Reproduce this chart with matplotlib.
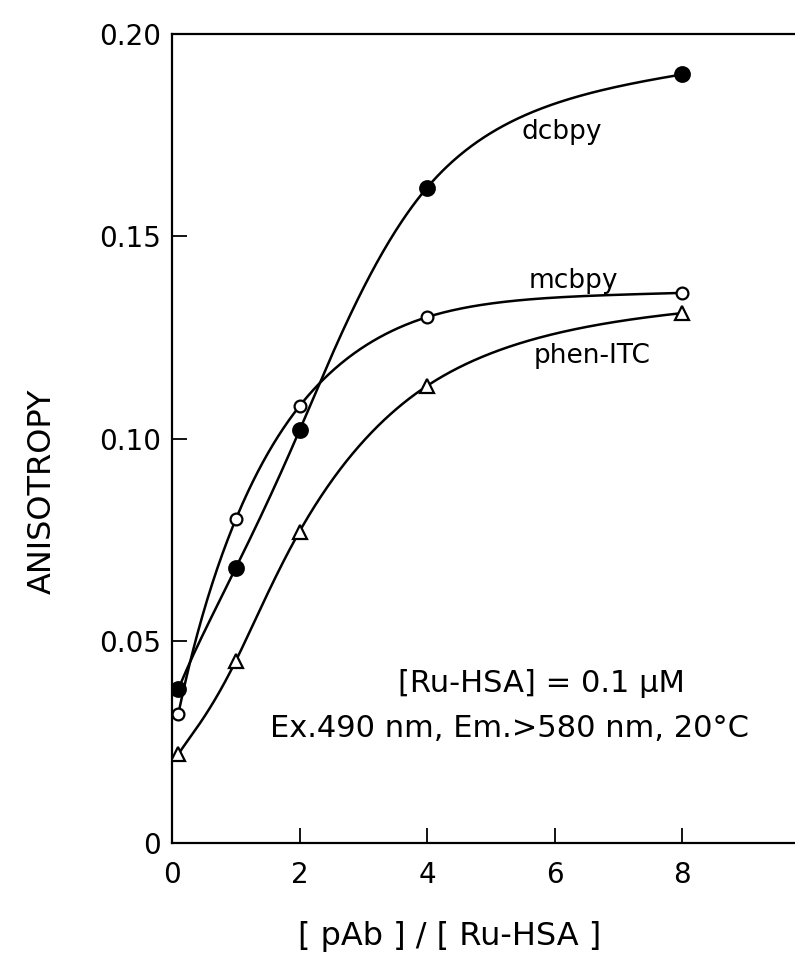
import matplotlib
matplotlib.use('Agg')
import matplotlib.pyplot as plt
import numpy as np

# pAb / Ru-HSA molar ratio
ratio = [0.1, 1, 2, 4, 8]

# steady-state anisotropy for the three Ru-ligand labels
dcbpy = [0.038, 0.068, 0.102, 0.162, 0.190]
mcbpy = [0.032, 0.080, 0.108, 0.130, 0.136]
phen_itc = [0.022, 0.045, 0.077, 0.113, 0.131]

ytick_vals = [0, 0.05, 0.10, 0.15, 0.20]
ytick_text = ['0', '0.05', '0.10', '0.15', '0.20']
xtick_vals = [0, 2, 4, 6, 8]


def smooth(x, y, xs, end_frac=0.3):
    # cubic spline through the points (natural start, clamped end),
    # just for drawing the guide curve
    x = np.asarray(x, float)
    y = np.asarray(y, float)
    n = len(x)
    h = np.diff(x)
    d = np.diff(y) / h
    sn = d[-1] * end_frac
    A = np.zeros((n, n))
    r = np.zeros(n)
    A[0, 0] = 1.0
    A[-1, -2], A[-1, -1] = h[-1], 2 * h[-1]
    r[-1] = 6 * (sn - d[-1])
    for i in range(1, n - 1):
        A[i, i - 1] = h[i - 1]
        A[i, i] = 2 * (h[i - 1] + h[i])
        A[i, i + 1] = h[i]
        r[i] = 6 * (d[i] - d[i - 1])
    M = np.linalg.solve(A, r)
    k = np.clip(np.searchsorted(x, xs) - 1, 0, n - 2)
    a = x[k + 1] - xs
    b = xs - x[k]
    hk = h[k]
    return (M[k] * a**3 / (6 * hk) + M[k + 1] * b**3 / (6 * hk)
            + (y[k] / hk - M[k] * hk / 6) * a + (y[k + 1] / hk - M[k + 1] * hk / 6) * b)


fig = plt.figure(figsize=(7.95, 9.56), dpi=100)
ax = fig.add_axes([172 / 795, 113 / 956, 1 - 172 / 795, (843 - 34) / 956])

# spline is built on log(1+x) so the wide 4-8 gap bends gently
xs = np.linspace(ratio[0], ratio[-1], 400)
u = np.log1p(ratio)
us = np.log1p(xs)
for vals, mk, fc, ms, ef in [(dcbpy, 'o', 'k', 10.5, 0.5),
                             (mcbpy, 'o', 'white', 8.5, 0.4),
                             (phen_itc, '^', 'white', 10.5, 0.5)]:
    ax.plot(xs, smooth(u, vals, us, ef), 'k-', lw=1.8, zorder=2)
    ax.plot(ratio, vals, mk, ms=ms, mfc=fc, mec='k', mew=1.6, ls='none', zorder=3)

ax.text(6.12, 0.1758, 'dcbpy', fontsize=19, ha='center', va='center')
ax.text(6.29, 0.139, 'mcbpy', fontsize=19, ha='center', va='center')
ax.text(6.59, 0.1204, 'phen-ITC', fontsize=19, ha='center', va='center')

ax.text(5.79, 0.0395, '[Ru-HSA] = 0.1 μM', fontsize=22, ha='center', va='center')
ax.text(5.3, 0.0284, 'Ex.490 nm, Em.>580 nm, 20°C', fontsize=22,
        ha='center', va='center')

ax.set_xlim(0, (795 - 172) / 63.75)
ax.set_ylim(0, 0.2)
ax.set_xticks(xtick_vals)
ax.set_yticks(ytick_vals)
ax.set_yticklabels(ytick_text)
ax.tick_params(direction='in', length=11, width=1.3, labelsize=20)
ax.tick_params(axis='x', pad=13)
ax.tick_params(axis='y', pad=8)

ax.spines['right'].set_visible(False)
for s in ['left', 'top', 'bottom']:
    ax.spines[s].set_linewidth(1.6)

fig.text(450 / 795, 1 - 937 / 956, '[ pAb ] / [ Ru-HSA ]', fontsize=23,
         ha='center', va='center')
fig.text(42 / 795, 1 - 491 / 956, 'ANISOTROPY', fontsize=23, rotation=90,
         ha='center', va='center')

fig.savefig('out.png', dpi=100)
